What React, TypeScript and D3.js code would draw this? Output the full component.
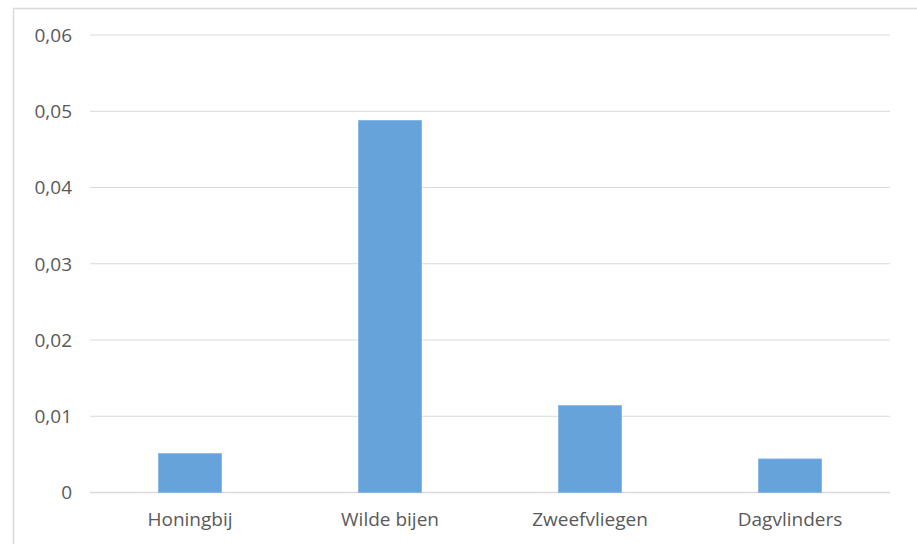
import React from "react";
import * as d3 from "d3";

const categories = ["Honingbij", "Wilde bijen", "Zweefvliegen", "Dagvlinders"];
const values = [0.0051, 0.0488, 0.0114, 0.0044];
const yTicks = [0, 0.01, 0.02, 0.03, 0.04, 0.05, 0.06];
const yTickLabels = ["0", "0,01", "0,02", "0,03", "0,04", "0,05", "0,06"];

export default function App() {
  const W = 917, H = 544;
  const left = 90, right = 890, top = 35, bottom = 492.5;
  const x = d3.scaleBand<string>().domain(categories).range([left, right]).paddingInner(0.685).paddingOuter(0.3425);
  const y = d3.scaleLinear().domain([0, 0.06]).range([bottom, top]);
  const font = "'Open Sans', sans-serif";
  return (
    <svg width={W} height={H} style={{ position: "absolute", left: 0, top: 0 }}>
      <rect x={0} y={0} width={W} height={H} fill="#fff" />
      <rect x={13.5} y={8.5} width={W + 10} height={H + 10} fill="none" stroke="#d9d9d9" strokeWidth={1.5} />
      {yTicks.map((t, i) => (
        <g key={t}>
          <line x1={left} x2={right} y1={y(t)} y2={y(t)} stroke="#d9d9d9" strokeWidth={i === 0 ? 1.5 : 1} />
          <text x={72} y={y(t)} dy="0.36em" textAnchor="end" fontFamily={font} fontSize={19} fill="#595959">
            {yTickLabels[i]}
          </text>
        </g>
      ))}
      {categories.map((c, i) => (
        <g key={c}>
          <rect x={x(c)} y={y(values[i])} width={x.bandwidth()} height={y(0) - y(values[i])} fill="#66a3da" stroke="#7db3e3" strokeWidth={0.75} />
          <text x={(x(c) as number) + x.bandwidth() / 2} y={526} textAnchor="middle" fontFamily={font} fontSize={19} fill="#595959">
            {c}
          </text>
        </g>
      ))}
    </svg>
  );
}
